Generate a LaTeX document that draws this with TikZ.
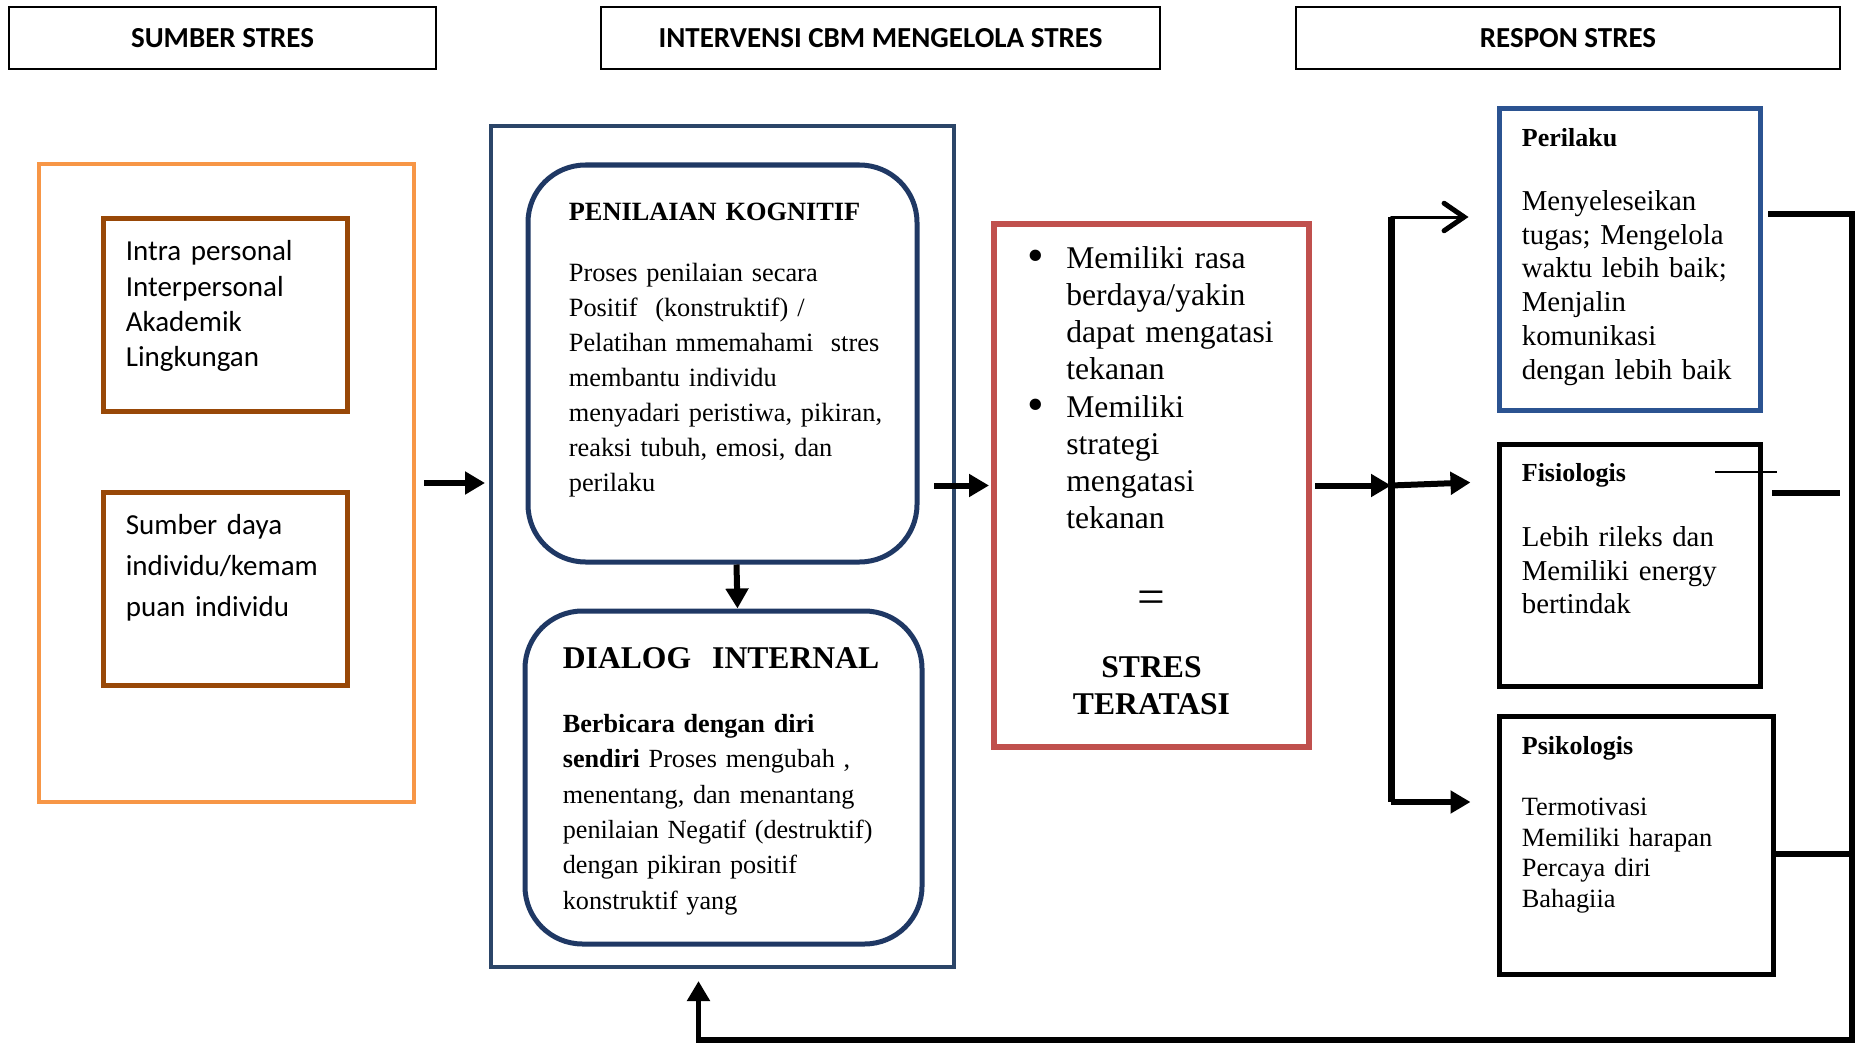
\documentclass[tikz,border=0pt]{standalone}
\usepackage{fontspec}
\setmainfont{Liberation Serif}
\newfontfamily\calibri{Carlito}
\usepackage{tikz}
\usetikzlibrary{arrows.meta}
\usetikzlibrary{calc}
\usetikzlibrary{fit}

\definecolor{sumberorange}{HTML}{F79646}
\definecolor{sumberbrown}{HTML}{984807}
\definecolor{cbmblue}{HTML}{2B4568}
\definecolor{kogblue}{HTML}{1F3864}
\definecolor{teratasired}{HTML}{C0504D}
\definecolor{perilakublue}{HTML}{2B5391}

\newcommand{\poin}{\leavevmode\llap{\raisebox{-0.12em}{\scalebox{1.5}{\textbullet}}\hspace{4.5mm}}}

\begin{document}
\begin{tikzpicture}[x=0.2mm,y=-0.2mm,
    headbox/.style={draw, line width=1pt, inner sep=0pt, minimum height=12.4mm, font=\calibri\bfseries\fontsize{16.5}{20}\selectfont},
    frame/.style={draw, inner sep=0pt},
    txt/.style={inner sep=0pt, anchor=base west, align=left},
    arr/.style={line width=1.2mm, -{Triangle[length=4mm,width=4.4mm]}},
    ]
        \useasboundingbox (0,0) rectangle (1858,1045);

        \node[headbox, minimum width=85.4mm] (hsumber) at (222.5,38) {SUMBER STRES};
        \node[headbox, minimum width=111.8mm] (hcbm) at (880.5,38) {INTERVENSI CBM MENGELOLA STRES};
        \node[headbox, minimum width=108.8mm] (hrespon) at (1568,38) {RESPON STRES};

        \node[frame, draw=sumberorange, line width=0.8mm, fit={(39,164) (414,802)}] (sumber) {};
        \node[frame, draw=sumberbrown, line width=1mm, fit={(103,218) (347,411)}] (intra) {};
        \node[frame, draw=sumberbrown, line width=1mm, fit={(103,492) (347,685)}] (daya) {};
        \node[txt, text width=42mm, font=\calibri\fontsize{16.5}{20.2}\selectfont] (intratxt) at ($(intra.north west)+(25,45)$) {Intra personal\\Interpersonal\\Akademik\\Lingkungan};
        \node[txt, text width=42mm, font=\calibri\fontsize{16.5}{23.2}\selectfont] (dayatxt) at ($(daya.north west)+(25,45)$) {Sumber daya\\individu/kemam\\puan individu};

        \node[frame, draw=cbmblue, line width=0.8mm, fit={(491,126) (954,967)}] (cbm) {};
        \node[frame, draw=kogblue, line width=1mm, rounded corners=11.5mm, fit={(528,165) (917,562)}] (kog) {};
        \node[frame, draw=kogblue, line width=1mm, rounded corners=11.5mm, fit={(525,611) (922,944)}] (dialog) {};
        \node[txt, text width=66mm, font=\bfseries\fontsize{15}{18}\selectfont] (kogtitle) at ($(kog.north west)+(43,58)$) {PENILAIAN KOGNITIF};
        \node[txt, text width=66mm, font=\fontsize{15}{19.9}\selectfont] (kogtxt) at ($(kog.north west)+(43,119)$) {Proses penilaian secara\\Positif\ \ (konstruktif) /\\Pelatihan mmemahami\ \ stres\\membantu individu\\menyadari peristiwa, pikiran,\\reaksi tubuh, emosi, dan\\perilaku};
        \node[txt, text width=68mm, font=\bfseries\fontsize{18}{21}\selectfont] (dialogtitle) at ($(dialog.north west)+(40,60)$) {DIALOG\ \ INTERNAL};
        \node[txt, text width=68mm, font=\fontsize{14.9}{20.1}\selectfont] (dialogtxt) at ($(dialog.north west)+(40,124)$) {\textbf{Berbicara dengan diri}\\\textbf{sendiri} Proses mengubah ,\\menentang, dan menantang\\penilaian Negatif (destruktif)\\dengan pikiran positif\\konstruktif yang};

        \node[frame, draw=teratasired, line width=1.2mm, fit={(994,224) (1309,747)}] (teratasi) {};
        \node[txt, text width=48mm, font=\fontsize{18}{21.2}\selectfont] (teratasitxt) at ($(teratasi.north west)+(75,47)$) {\poin Memiliki rasa\\berdaya/yakin\\dapat mengatasi\\tekanan\\\poin Memiliki\\strategi\\mengatasi\\tekanan};
        \node[inner sep=0pt, font=\fontsize{28}{30}\selectfont] (sama) at ($(teratasi.north)+(0,381)$) {=};
        \node[inner sep=0pt, anchor=base, align=center, text width=55mm, font=\bfseries\fontsize{18}{21.2}\selectfont] (stres) at ($(teratasi.north)+(0,456)$) {STRES\\TERATASI};

        \node[frame, draw=perilakublue, line width=1mm, fit={(1499,109) (1760,410)}] (perilaku) {};
        \node[frame, draw=black, line width=1mm, fit={(1499,444) (1760,686)}] (fisio) {};
        \node[frame, draw=black, line width=1mm, fit={(1499,716) (1773,974)}] (psiko) {};
        \node[txt, text width=45mm, font=\bfseries\fontsize{14.8}{18}\selectfont] (perilakutitle) at ($(perilaku.north west)+(25,40)$) {Perilaku};
        \node[txt, text width=45mm, font=\fontsize{16.4}{19.2}\selectfont] (perilakutxt) at ($(perilaku.north west)+(25,104)$) {Menyeleseikan\\tugas; Mengelola\\waktu lebih baik;\\Menjalin\\komunikasi\\dengan lebih baik};
        \node[txt, text width=45mm, font=\bfseries\fontsize{14.8}{18}\selectfont] (fisiotitle) at ($(fisio.north west)+(25,40)$) {Fisiologis};
        \node[txt, text width=45mm, font=\fontsize{16.4}{19.2}\selectfont] (fisiotxt) at ($(fisio.north west)+(25,105)$) {Lebih rileks dan\\Memiliki energy\\bertindak};
        \node[txt, text width=48mm, font=\bfseries\fontsize{14.8}{18}\selectfont] (psikotitle) at ($(psiko.north west)+(25,41)$) {Psikologis};
        \node[txt, text width=48mm, font=\fontsize{15}{17.4}\selectfont] (psikotxt) at ($(psiko.north west)+(25,102)$) {Termotivasi\\Memiliki harapan\\Percaya diri\\Bahagiia};

        \coordinate (bustop) at (1391,217);
        \coordinate (busbot) at (1391,802);
        \coordinate (fbstart) at (1768,214);
        \coordinate (fbcorner) at (1852,1040);
        \coordinate (psikoout) at ($(psiko.east)+(0,9)$);

        \draw[arr] ($(sumber.east)+(8,0)$) -- ($(cbm.west |- sumber.east)+(-4,0)$);
        \draw[arr] ($(kog.south)+(14,0)$) -- ($(dialog.north)+(14,0)$);
        \draw[arr] ($(teratasi.west)+(-57,0)$) -- ($(teratasi.west)+(-2,0)$);
        \draw[arr] ($(teratasi.east)+(3,0)$) -- (teratasi.east -| bustop);
        \draw[line width=1.4mm] (bustop) -- (busbot);
        \draw[line width=0.6mm, line cap=round, -{Straight Barb[length=4mm,width=5.5mm,line width=1mm,line cap=round]}] (bustop) -- ($(bustop -| perilaku.west)+(-28,0)$);
        \draw[arr] (teratasi.east -| bustop) -- ($(teratasi.east -| fisio.west)+(-26,-3)$);
        \draw[arr] (busbot) -- ($(busbot -| psiko.west)+(-26,0)$);

        \draw[line width=1.1mm, -{Triangle[length=4mm,width=4.4mm]}] (fbstart) -| (fbcorner) -| ($(cbm.south)+(-24,12)$);
        \draw[line width=1.1mm] (psikoout) -- (psikoout -| fbcorner);

        \draw[line width=0.3mm] (1715,472) -- (1777,472);
        \draw[line width=1.2mm] (1772,493) -- (1840,493);
    \end{tikzpicture}
\end{document}
